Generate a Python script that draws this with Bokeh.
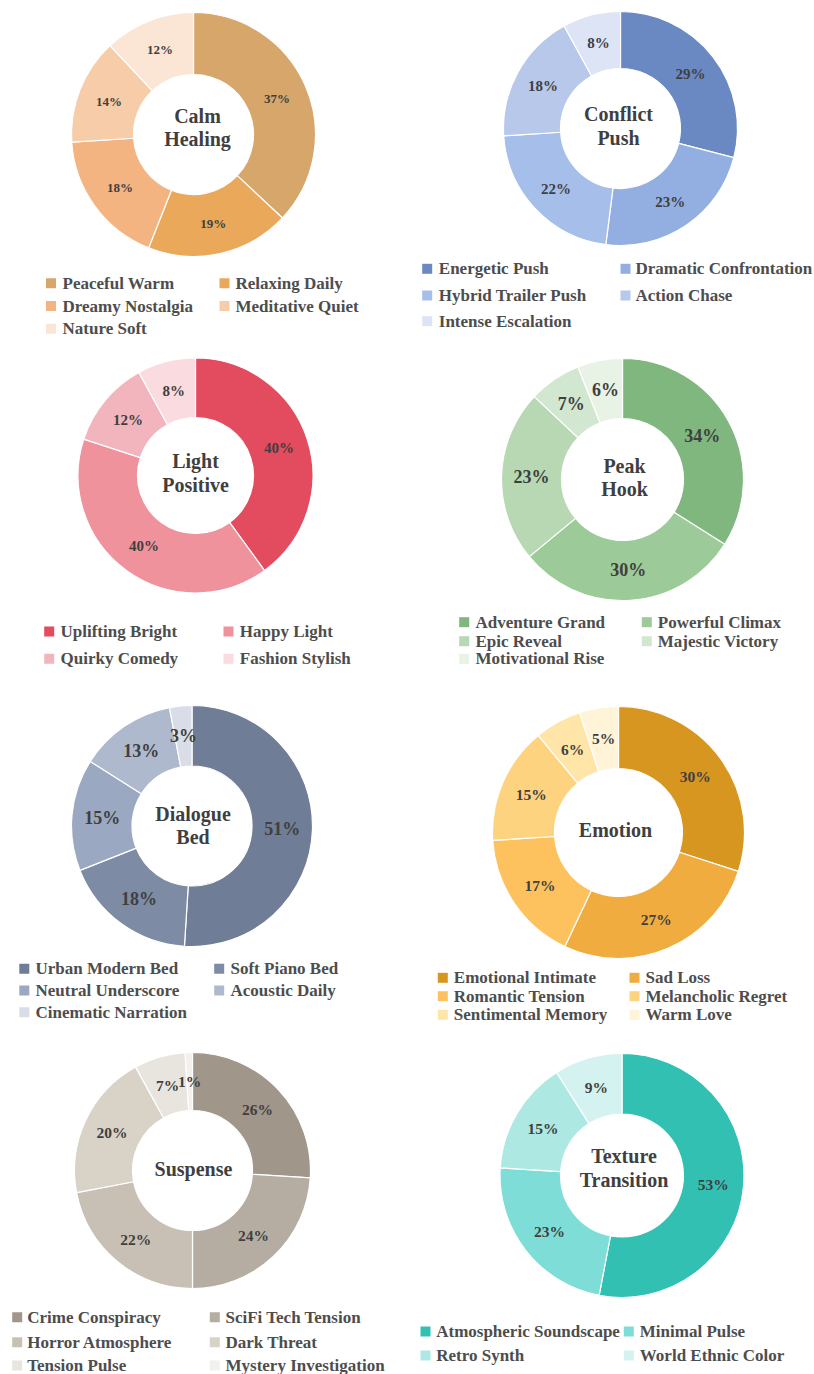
import math
from bokeh.plotting import figure
from bokeh.models import Range1d, ColumnDataSource
from bokeh.core.properties import value
from bokeh.embed import file_html
from bokeh.resources import INLINE

# ---------------- data ----------------
calm_title = ["Calm", "Healing"]
calm_labels = ["Peaceful Warm", "Relaxing Daily", "Dreamy Nostalgia", "Meditative Quiet", "Nature Soft"]
calm_values = [37, 19, 18, 14, 12]

conflict_title = ["Conflict", "Push"]
conflict_labels = ["Energetic Push", "Dramatic Confrontation", "Hybrid Trailer Push", "Action Chase", "Intense Escalation"]
conflict_values = [29, 23, 22, 18, 8]

light_title = ["Light", "Positive"]
light_labels = ["Uplifting Bright", "Happy Light", "Quirky Comedy", "Fashion Stylish"]
light_values = [40, 40, 12, 8]

peak_title = ["Peak", "Hook"]
peak_labels = ["Adventure Grand", "Powerful Climax", "Epic Reveal", "Majestic Victory", "Motivational Rise"]
peak_values = [34, 30, 23, 7, 6]

dialogue_title = ["Dialogue", "Bed"]
dialogue_labels = ["Urban Modern Bed", "Soft Piano Bed", "Neutral Underscore", "Acoustic Daily", "Cinematic Narration"]
dialogue_values = [51, 18, 15, 13, 3]

emotion_title = ["Emotion"]
emotion_labels = ["Emotional Intimate", "Sad Loss", "Romantic Tension", "Melancholic Regret", "Sentimental Memory", "Warm Love"]
emotion_values = [30, 27, 17, 15, 6, 5]

suspense_title = ["Suspense"]
suspense_labels = ["Crime Conspiracy", "SciFi Tech Tension", "Horror Atmosphere", "Dark Threat", "Tension Pulse", "Mystery Investigation"]
suspense_values = [26, 24, 22, 20, 7, 1]

texture_title = ["Texture", "Transition"]
texture_labels = ["Atmospheric Soundscape", "Minimal Pulse", "Retro Synth", "World Ethnic Color"]
texture_values = [53, 23, 15, 9]

# ---------------- palettes ----------------
calm_colors = ["#D6A66B", "#E9A85A", "#F4B482", "#F7CCA8", "#FBE5D5"]
conflict_colors = ["#6A89C3", "#93AEE0", "#A5BEEA", "#B7C8EA", "#DCE4F5"]
light_colors = ["#E34B5E", "#EF929C", "#F3B5BD", "#FADBE0"]
peak_colors = ["#7FB77F", "#9CCA98", "#B7D8B2", "#D2E7CF", "#E8F3E6"]
dialogue_colors = ["#707D96", "#7E8BA5", "#9BA8C2", "#AFB9CD", "#D8DDE7"]
emotion_colors = ["#D79620", "#F0AC3E", "#FDC25D", "#FED37F", "#FFE5A8", "#FFF3D8"]
suspense_colors = ["#A0968A", "#B5ADA2", "#C8C0B5", "#D9D2C7", "#E8E5DE", "#F3F1ED"]
texture_colors = ["#32C0B2", "#7EDDD6", "#ADE8E2", "#D4F2EF"]

# ---------------- layout (page pixel coordinates) ----------------
panels = [
    dict(title=calm_title, labels=calm_labels, values=calm_values, colors=calm_colors,
         cx=193, cy=134, ro=122, ri=60, tx=197, ty=[115, 138.5], lsize="13px",
         sq=[50.5, 224], tt=[62, 235], rows=[282.7, 305.5, 328.3]),
    dict(title=conflict_title, labels=conflict_labels, values=conflict_values, colors=conflict_colors,
         cx=620, cy=128, ro=117, ri=60, tx=618, ty=[113.5, 137], lsize="15px",
         sq=[426.7, 625], tt=[438.3, 635], rows=[268.3, 295, 320.7]),
    dict(title=light_title, labels=light_labels, values=light_values, colors=light_colors,
         cx=195, cy=475, ro=117.5, ri=58, tx=195, ty=[460.5, 484.5], lsize="15px",
         sq=[48.7, 228], tt=[60, 239.3], rows=[631, 658.3]),
    dict(title=peak_title, labels=peak_labels, values=peak_values, colors=peak_colors,
         cx=622, cy=479, ro=121, ri=61, tx=624, ty=[465, 488.5], lsize="18px",
         sq=[463.7, 646.3], tt=[475, 657.3], rows=[621.7, 640.7, 658.3]),
    dict(title=dialogue_title, labels=dialogue_labels, values=dialogue_values, colors=dialogue_colors,
         cx=191.5, cy=825.5, ro=120.5, ri=60, tx=192.5, ty=[813, 836], lsize="18px",
         sq=[23.8, 218.7], tt=[35, 230], rows=[968.3, 990, 1011.7]),
    dict(title=emotion_title, labels=emotion_labels, values=emotion_values, colors=emotion_colors,
         cx=618, cy=832, ro=126, ri=64, tx=615, ty=[829.5], lsize="15.5px",
         sq=[442.3, 634], tt=[453.3, 645], rows=[977.3, 995.7, 1014.3]),
    dict(title=suspense_title, labels=suspense_labels, values=suspense_values, colors=suspense_colors,
         cx=192, cy=1170, ro=118, ri=60, tx=193, ty=[1168.5], lsize="15.5px",
         sq=[16.7, 214.3], tt=[26.7, 225], rows=[1316.7, 1341.7, 1365]),
    dict(title=texture_title, labels=texture_labels, values=texture_values, colors=texture_colors,
         cx=621.5, cy=1175, ro=122, ri=61.5, tx=623.5, ty=[1155, 1179], lsize="15.5px",
         sq=[425, 628.3], tt=[435.7, 639.3], rows=[1331, 1355]),
]

FONT = value("Liberation Serif")
TXT = "#3f3f3f"

p = figure(width=814, height=1374, x_range=Range1d(0, 814), y_range=Range1d(1374, 0),
           output_backend="svg", toolbar_location=None, min_border=0,
           x_axis_location=None, y_axis_location=None, outline_line_color=None,
           background_fill_color="white", border_fill_color="white")
p.grid.visible = False

for pn in panels:
    vals = pn["values"]
    total = float(sum(vals))
    starts, ends, lx, ly, ltxt = [], [], [], [], []
    cum = 0.0
    rmid = (pn["ro"] + pn["ri"]) / 2.0
    for v in vals:
        f0 = cum / total
        f1 = (cum + v) / total
        cum += v
        starts.append(math.pi / 2 - 2 * math.pi * f0)
        ends.append(math.pi / 2 - 2 * math.pi * f1)
        fm = (f0 + f1) / 2
        th = 2 * math.pi * fm
        lx.append(pn["cx"] + rmid * math.sin(th))
        ly.append(pn["cy"] - rmid * math.cos(th))
        ltxt.append(f"{round(v / total * 100)}%")
    src = ColumnDataSource(dict(start=starts, end=ends, color=pn["colors"],
                                x=[pn["cx"]] * len(vals), y=[pn["cy"]] * len(vals)))
    p.annular_wedge(x="x", y="y", inner_radius=pn["ri"], outer_radius=pn["ro"],
                    inner_radius_units="screen", outer_radius_units="screen",
                    start_angle="start", end_angle="end", direction="clock",
                    fill_color="color", line_color="white", line_width=1.2, source=src)
    # percentage labels
    p.text(x=lx, y=ly, text=ltxt, text_font=FONT, text_font_size=pn["lsize"],
           text_font_style="bold", text_color=TXT, text_align="center", text_baseline="middle")
    # center title
    p.text(x=[pn["tx"]] * len(pn["title"]), y=pn["ty"], text=pn["title"], text_font=FONT,
           text_font_size="20px", text_font_style="bold", text_color=TXT,
           text_align="center", text_baseline="middle")
    # legend
    sqx, sqy, tx, ty = [], [], [], []
    for i, lab in enumerate(pn["labels"]):
        col = i % 2
        row = i // 2
        sqx.append(pn["sq"][col])
        tx.append(pn["tt"][col])
        sqy.append(pn["rows"][row])
        ty.append(pn["rows"][row])
    p.rect(x=sqx, y=sqy, width=10, height=10, width_units="screen", height_units="screen",
           fill_color=pn["colors"], line_color=None)
    p.text(x=tx, y=ty, text=pn["labels"], text_font=FONT, text_font_size="17px",
           text_font_style="bold", text_color="#4d4d4d", text_align="left", text_baseline="middle")

open("out.html", "w").write(file_html(p, INLINE))
